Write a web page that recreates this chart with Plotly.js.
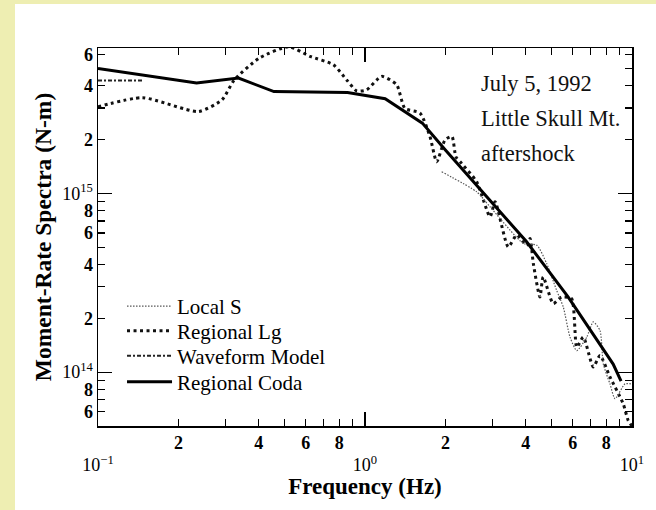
<!DOCTYPE html>
<html><head><meta charset="utf-8">
<script src="https://cdn.plot.ly/plotly-3.0.1.min.js"></script>
<style>
html,body{margin:0;padding:0;background:#eeeeb2;width:656px;height:510px;overflow:hidden}
#chart{position:absolute;left:15px;top:4px;width:641px;height:506px;background:#fff}
</style></head><body><div id="chart"></div>
<script>
// Regional Coda (solid)
const codaFreq = [0.1, 0.234, 0.336, 0.456, 0.86, 1.19, 1.64, 2.0, 4.03, 5.77, 8.5, 9.1];
const codaMoment = [5.0e15, 4.14e15, 4.41e15, 3.71e15, 3.66e15, 3.38e15, 2.47e15, 1.75e15, 5.36e14, 2.63e14, 1.11e14, 8.9e13];
// Waveform Model (dash-dot)
const waveFreq = [0.1, 0.148];
const waveMoment = [4.28e15, 4.28e15];
// Regional Lg (heavy dots)
const lgFreq = [0.1, 0.1466, 0.238, 0.291, 0.324, 0.402, 0.518, 0.622, 0.761, 0.854, 0.931, 1.014, 1.155, 1.314, 1.41, 1.607, 1.751, 1.856, 1.994, 2.116, 2.19, 2.30, 2.62, 2.94, 3.07, 3.44, 3.70, 4.03, 4.15, 4.27, 4.52, 4.65, 5.07, 5.45, 5.94, 6.21, 6.57, 7.16, 7.59, 8.27, 9.27, 9.68, 10];
const lgMoment = [3.05e15, 3.43e15, 2.87e15, 3.33e15, 4.31e15, 5.71e15, 6.6e15, 5.84e15, 5.24e15, 4.31e15, 3.74e15, 3.79e15, 4.51e15, 4.05e15, 2.99e15, 2.81e15, 2.08e15, 1.50e15, 1.99e15, 2.08e15, 1.60e15, 1.47e15, 1.16e15, 7.4e14, 8.97e14, 5.02e14, 5.84e14, 5.13e14, 5.6e14, 4.05e14, 2.63e14, 3.41e14, 2.42e14, 2.63e14, 2.58e14, 1.38e14, 1.57e14, 1.07e14, 1.24e14, 9.4e13, 6.66e13, 5.36e13, 5.0e13];
// Local S (fine dots)
const localFreq = [1.937, 2.62, 2.94, 3.92, 4.40, 4.79, 5.22, 5.53, 5.86, 6.21, 6.77, 7.16, 7.59, 7.81, 8.27, 8.64, 9.41, 9.9];
const localMoment = [1.32e15, 1.02e15, 8.41e14, 5.25e14, 5.13e14, 4.05e14, 2.87e14, 2.31e14, 1.57e14, 1.32e14, 1.57e14, 1.91e14, 1.71e14, 1.11e14, 8.6e13, 7.1e13, 8.6e13, 8.6e13];

const seriesNames = ['Local S', 'Regional Lg', 'Waveform Model', 'Regional Coda'];

// Tick labels
const xTickVals = [0.2, 0.4, 0.6, 0.8, 2, 4, 6, 8];
const xTickText = ['<b>2</b>', '<b>4</b>', '<b>6</b>', '<b>8</b>', '<b>2</b>', '<b>4</b>', '<b>6</b>', '<b>8</b>'];
const xMinorVals = [0.3, 0.5, 0.7, 0.9, 3, 5, 7, 9];
const xDecades = [0.1, 1, 10];
const xDecadeText = ['10<sup>\u22121</sup>', '10<sup>0</sup>', '10<sup>1</sup>'];
const yTickVals = [6e13, 8e13, 1e14, 2e14, 4e14, 6e14, 8e14, 1e15, 2e15, 4e15, 6e15];
const yTickText = ['<b>6</b>', '<b>8</b>', '10<sup>14</sup>', '<b>2</b>', '<b>4</b>', '<b>6</b>', '<b>8</b>', '10<sup>15</sup>', '<b>2</b>', '<b>4</b>', '<b>6</b>'];
const yMinorVals = [7e13, 9e13, 3e14, 5e14, 7e14, 9e14, 3e15, 5e15];
const yDecades = [1e14, 1e15];

const annLines = ['July 5, 1992', 'Little Skull Mt.', 'aftershock'];

const serif = 'Liberation Serif, Times New Roman, serif';

const traces = [
  {x: lgFreq, y: lgMoment, name: seriesNames[1], mode: 'lines', legend: 'legend2',
   line: {color: '#111', width: 3, dash: '3px,3.5px', shape: 'spline', smoothing: 0.6}},
  {x: localFreq, y: localMoment, name: seriesNames[0], mode: 'lines', legend: 'legend',
   line: {color: '#555', width: 1.2, dash: '1.5px,1.5px', shape: 'spline', smoothing: 0.6}},
  {x: waveFreq, y: waveMoment, name: seriesNames[2], mode: 'lines', legend: 'legend3',
   xaxis: 'x2', yaxis: 'y2',
   line: {color: '#222', width: 2, dash: '4px,2px,2px,2px'}},
  {x: codaFreq, y: codaMoment, name: seriesNames[3], mode: 'lines', legend: 'legend4',
   line: {color: '#000', width: 3}}
];

const legFont = {family: serif, size: 21, color: '#000'};
function leg(y) {
  return {x: 0.045, y: y, xanchor: 'left', yanchor: 'middle', bgcolor: 'rgba(0,0,0,0)',
          font: legFont, itemwidth: 45, borderwidth: 0};
}

const xRange = [-1, 1];
const yRange = [Math.log10(5e13), Math.log10(6.5e15)];
const tickFont = {family: serif, size: 18, color: '#000'};

const axisCommon = {
  type: 'log', showgrid: false, zeroline: false, showline: true, linecolor: '#000', linewidth: 1.5,
  mirror: 'ticks', ticks: 'inside', ticklen: 7, tickwidth: 1.2, tickcolor: '#000',
  tickmode: 'array', tickfont: tickFont
};

const layout = {
  width: 641, height: 506,
  margin: {l: 83, r: 24, t: 44, b: 84},
  paper_bgcolor: '#fff', plot_bgcolor: '#fff',
  showlegend: true,
  legend: leg(0.316), legend2: leg(0.251), legend3: leg(0.185), legend4: leg(0.116),
  xaxis: Object.assign({}, axisCommon, {
    range: xRange, tickvals: xTickVals, ticktext: xTickText,
    minor: {tickmode: 'array', tickvals: xMinorVals, ticks: 'inside', ticklen: 7, tickwidth: 1.2, tickcolor: '#000'},
    title: {text: '<b>Frequency (Hz)</b>', font: {family: serif, size: 23, color: '#000'}, standoff: 26}
  }),
  yaxis: Object.assign({}, axisCommon, {
    range: yRange, tickvals: yTickVals, ticktext: yTickText,
    minor: {tickmode: 'array', tickvals: yMinorVals, ticks: 'inside', ticklen: 7, tickwidth: 1.2, tickcolor: '#000'},
    title: {text: '<b>Moment-Rate Spectra (N-m)</b>', font: {family: serif, size: 23.5, color: '#000'}, standoff: 4}
  }),
  xaxis2: {type: 'log', range: xRange, overlaying: 'x', anchor: 'y2', side: 'bottom',
    showgrid: false, zeroline: false, showline: true, linecolor: '#000', linewidth: 1.5,
    mirror: 'ticks', ticks: 'inside', ticklen: 14, tickwidth: 1.2, tickcolor: '#000',
    tickmode: 'array', tickvals: xDecades, ticktext: xDecadeText, tickfont: tickFont,
    ticklabelstandoff: 22},
  yaxis2: {type: 'log', range: yRange, overlaying: 'y', anchor: 'x2', side: 'left',
    showgrid: false, zeroline: false, showline: true, linecolor: '#000', linewidth: 1.5,
    mirror: 'ticks', ticks: 'inside', ticklen: 14, tickwidth: 1.2, tickcolor: '#000',
    tickmode: 'array', tickvals: yDecades, showticklabels: false},
  annotations: annLines.map((t, i) => ({
    text: t, xref: 'paper', yref: 'paper', x: 0.7135, y: [0.9050, 0.8124, 0.7198][i],
    xanchor: 'left', yanchor: 'middle', showarrow: false,
    font: {family: serif, size: 22.5, color: '#111'}
  }))
};

Plotly.newPlot('chart', traces, layout, {displayModeBar: false, staticPlot: true});
</script></body></html>
